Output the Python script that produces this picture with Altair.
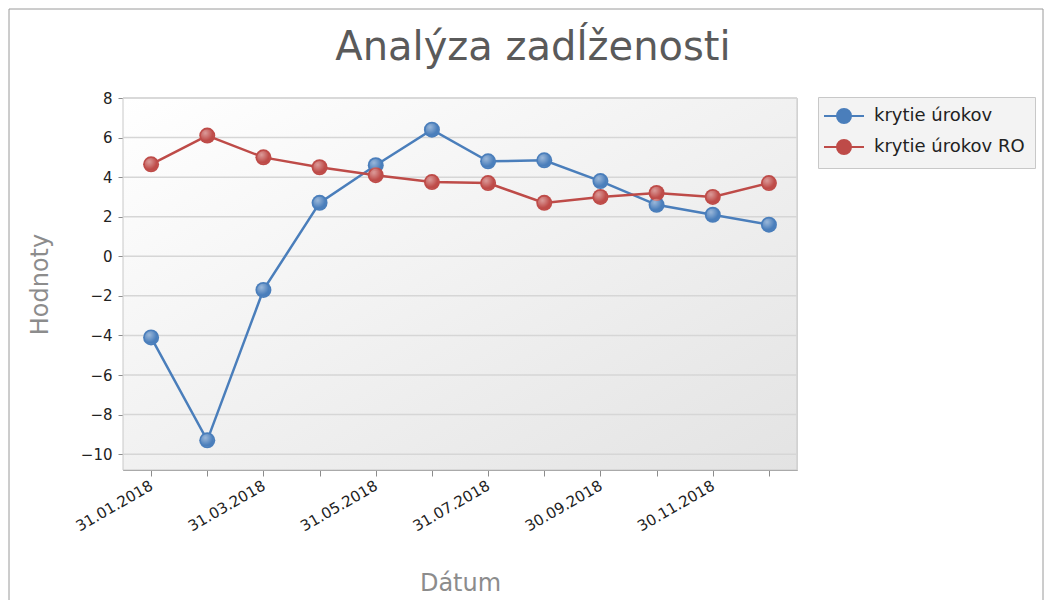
import altair as alt
import pandas as pd

dates = ["31.01.2018", "28.02.2018", "31.03.2018", "30.04.2018", "31.05.2018", "30.06.2018",
         "31.07.2018", "31.08.2018", "30.09.2018", "31.10.2018", "30.11.2018", "31.12.2018"]
shown_labels = ["31.01.2018", "31.03.2018", "31.05.2018", "31.07.2018", "30.09.2018", "30.11.2018"]
krytie_urokov = [-4.1, -9.3, -1.7, 2.7, 4.6, 6.4, 4.8, 4.85, 3.8, 2.6, 2.1, 1.6]
krytie_urokov_ro = [4.65, 6.1, 5.0, 4.5, 4.1, 3.75, 3.7, 2.7, 3.0, 3.2, 3.0, 3.7]
series_names = ["krytie úrokov", "krytie úrokov RO"]
series_colors = ["#4A7EBB", "#BE4B48"]
y_ticks = [-10, -8, -6, -4, -2, 0, 2, 4, 6, 8]
title_text = "Analýza zadĺženosti"

rows = []
for name, vals in zip(series_names, [krytie_urokov, krytie_urokov_ro]):
    for d, v in zip(dates, vals):
        rows.append({"Dátum": d, "Hodnota": v, "Séria": name})
df = pd.DataFrame(rows)
grid_df = pd.DataFrame({"Hodnota": y_ticks})
one = pd.DataFrame({"a": [0]})

FONT = "DejaVu Sans"
W, H = 674, 372

xs = alt.Scale(type="point", padding=0.5, domain=dates)
ys = alt.Scale(domain=[-10.8, 8], nice=False, zero=False)

label_expr = "indexof(" + str(shown_labels).replace("'", '"') + ", datum.value) >= 0 ? datum.label : ''"

x_axis = alt.Axis(title="Dátum", labelAngle=-30, labelAlign="right", labelBaseline="middle",
                  labelExpr=label_expr, labelFontSize=15, labelFont=FONT, labelColor="#222",
                  labelPadding=8, tickSize=6, tickColor="#8c8c8c", domainColor="#8c8c8c",
                  grid=False, titleFont=FONT, titleFontSize=24, titleColor="#8c8c8c",
                  titleFontWeight="normal", titleX=337, titleY=113, titleAlign="center",
                  titleBaseline="middle")
y_axis = alt.Axis(title="Hodnoty", values=y_ticks, grid=False, labelFontSize=15, labelFont=FONT,
                  labelColor="#222", tickSize=5, tickColor="#8c8c8c", domainColor="#8c8c8c",
                  labelPadding=6, titleFont=FONT, titleFontSize=24, titleColor="#8c8c8c",
                  titleFontWeight="normal", titleX=-83, titleY=H / 2, titleAngle=-90,
                  titleAlign="center", titleBaseline="middle")

frame = alt.Chart(one).mark_rect(filled=False, stroke="#9a9a9a", strokeWidth=1, clip=False).encode(
    x=alt.value(-114), x2=alt.value(920), y=alt.value(-89), y2=alt.value(620))

title = alt.Chart(one).mark_text(
    font=FONT, fontSize=40, color="#5a5a5a", align="center", baseline="alphabetic", clip=False
).encode(x=alt.value(410), y=alt.value(-38), text=alt.value(title_text))

bg = alt.Chart(one).mark_rect(
    color=alt.LinearGradient(gradient="linear", x1=0, y1=0, x2=1, y2=1,
                             stops=[alt.GradientStop(color="#ffffff", offset=0),
                                    alt.GradientStop(color="#e3e3e3", offset=1)]),
    stroke="#c8c8c8", strokeWidth=1).encode(
    x=alt.value(0), x2=alt.value("width"), y=alt.value(0), y2=alt.value("height"))

grid = alt.Chart(grid_df).mark_rule(color="#d6d6d6", strokeWidth=1.5).encode(
    y=alt.Y("Hodnota:Q", scale=ys, axis=y_axis))

legend_path = ("M-1.857,0L3.857,0M2,0A1,1,0,1,1,0,0A1,1,0,1,1,2,0Z")

color_enc = alt.Color("Séria:N", scale=alt.Scale(domain=series_names, range=series_colors),
                      legend=alt.Legend(
                          title=None, orient="none", legendX=695, legendY=-1,
                          symbolType=legend_path, symbolSize=196, symbolStrokeWidth=2,
                          labelFontSize=18, labelFont=FONT, labelColor="#222",
                          rowPadding=9, padding=10, strokeColor="#c8c8c8",
                          fillColor="#f3f3f3", labelOffset=28, cornerRadius=0))

base = alt.Chart(df).encode(
    x=alt.X("Dátum:O", scale=xs, sort=dates, axis=x_axis),
    y=alt.Y("Hodnota:Q", scale=ys, axis=y_axis),
)

lines = base.mark_line(strokeWidth=2.5).encode(color=color_enc)
dots = base.mark_circle(size=256, opacity=1).encode(color=color_enc)
shine = base.mark_circle(
    size=160, opacity=1,
    color=alt.RadialGradient(gradient="radial", x1=0.35, y1=0.3, x2=0.35, y2=0.3, r1=0, r2=0.6,
                             stops=[alt.GradientStop(color="rgba(255,255,255,0.45)", offset=0),
                                    alt.GradientStop(color="rgba(255,255,255,0)", offset=1)]))

chart = alt.layer(frame, title, bg, grid, lines, dots, shine).properties(
    width=W, height=H,
    autosize=alt.AutoSizeParams(type="none"),
    padding={"left": 115, "top": 90, "right": 247, "bottom": 130},
).configure_view(stroke=None).configure(background="white")

chart.save("out.html", embed_options={"renderer": "svg", "actions": False})
